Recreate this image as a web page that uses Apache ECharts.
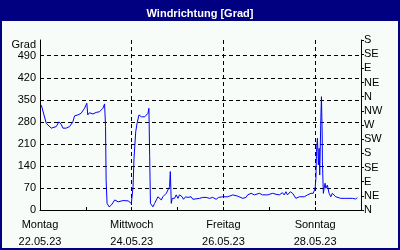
<!DOCTYPE html>
<html><head><meta charset="utf-8">
<script src="https://cdn.jsdelivr.net/npm/echarts@6/dist/echarts.min.js"></script>
<style>html,body{margin:0;padding:0;background:#f8fcf8}#c{width:400px;height:250px}</style>
</head><body><div id="c"></div>
<script>
// hours since Monday 22.05.23 00:00
const hours = [0.7,2.1,3.3,4.2,5.9,6.8,8.5,9.9,11.0,12.0,13.7,15.5,17.2,18.1,19.8,21.5,23.3,24.5,25.0,25.9,27.7,29.4,31.1,32.9,33.8,34.3,34.6,35.1,36.2,37.4,39.1,40.9,41.7,43.5,46.1,47.0,47.8,48.7,49.2,50.1,50.8,51.8,53.1,53.9,54.8,55.7,56.5,57.0,57.4,57.8,59.1,60.0,60.9,61.7,62.6,63.5,64.3,65.2,66.1,66.9,67.8,68.2,68.5,68.7,69.2,69.5,70.4,71.3,72.2,73.0,73.9,74.4,75.1,76.2,77.4,78.3,79.1,80.0,80.9,83.5,85.2,87.0,88.7,90.4,92.2,93.5,95.6,98.2,100.9,103.5,106.1,107.8,108.7,110.5,112.2,114.8,116.5,117.4,119.1,121.7,123.5,125.2,126.9,127.8,128.7,129.5,131.0,132.2,133.9,135.7,138.3,140.0,141.8,143.0,144.0,144.4,144.7,145.2,145.7,146.1,146.4,147.0,147.3,147.7,147.8,148.3,148.7,149.2,149.6,150.4,151.3,152.2,153.0,153.9,154.8,155.6,157.4,160.0,163.5,165.2,166.1];
const values = [333,302,275,270,260,254,265,280,273,260,260,265,280,299,302,307,323,339,302,309,305,310,312,323,337,265,95,21,10,16,32,26,32,30,29,32,21,74,164,249,275,302,296,291,296,291,307,323,169,21,10,21,32,42,37,32,42,48,53,58,74,122,64,21,37,42,37,48,37,48,53,42,34,42,40,44,42,34,37,37,40,40,37,40,34,40,42,42,48,44,37,40,48,53,48,53,48,42,48,53,50,48,55,48,58,48,58,53,37,42,42,48,53,53,69,101,185,228,143,196,111,296,360,238,153,53,69,85,69,79,53,42,53,48,42,37,37,37,37,35,39];
const dayLabels = ['Montag\n22.05.23','Mittwoch\n24.05.23','Freitag\n26.05.23','Sonntag\n28.05.23'];
const dirLabels = ['N','NE','E','SE','S','SW','W','NW','N','NE','E','SE','S'];
const yMax = 540, yStep = 70, dirStep = 45, xMax = 168;

const font = 'Liberation Sans, Arial, sans-serif';
const data = hours.map((h,i)=>[h, values[i]]);
const chart = echarts.init(document.getElementById('c'), null, {renderer:'canvas'});
const dash = {color:'#000', width:1, type:[4,3]};
const solid = {color:'#000', width:1};
chart.setOption({
  animation:false,
  backgroundColor:'#f8fcf8',
  textStyle:{fontFamily:font},
  graphic:[
    {type:'rect', z:-100, shape:{x:1,y:1,width:398,height:248}, style:{fill:'#f8fcf8', stroke:'#000080', lineWidth:2}},
    {type:'rect', z:-99, shape:{x:0,y:0,width:400,height:21}, style:{fill:'#000080'}}
  ],
  title:{text:'Windrichtung [Grad]', left:'center', top:3, z:10,
    textStyle:{color:'#fff', fontSize:11, fontWeight:'bold', fontFamily:font}},
  grid:{left:40, right:39, top:40, bottom:40, containLabel:false},
  xAxis:[
    {type:'value', min:0, max:xMax, interval:48,
     axisLine:{show:true, onZero:false, lineStyle:solid}, axisTick:{show:false},
     splitLine:{show:true, lineStyle:dash, showMinLine:false, showMaxLine:false},
     axisLabel:{show:true, showMaxLabel:false, color:'#000', fontSize:11, fontFamily:font, margin:6, lineHeight:17,
       formatter:v=> v<xMax ? dayLabels[Math.round(v/48)] : ''}},
    {type:'value', min:0, max:xMax, interval:24, position:'bottom',
     axisLine:{show:false, onZero:false}, axisTick:{show:true, inside:true, length:3, lineStyle:solid},
     splitLine:{show:false}, axisLabel:{show:false}}
  ],
  yAxis:[
    {type:'value', min:0, max:yMax, interval:yStep, position:'left',
     name:'Grad', nameLocation:'end', nameGap:-5,
     nameTextStyle:{color:'#000', fontSize:11, fontFamily:font, align:'right', verticalAlign:'middle', padding:[0,4,0,0]},
     axisLine:{show:true, onZero:false, lineStyle:solid}, axisTick:{show:false},
     splitLine:{show:true, lineStyle:dash, showMinLine:false, showMaxLine:false},
     axisLabel:{color:'#000', fontSize:11, fontFamily:font, margin:4, showMaxLabel:false,
       formatter:v=> v===yMax ? '' : String(v)}},
    {type:'value', min:0, max:yMax, interval:dirStep, position:'right',
     axisLine:{show:true, onZero:false, lineStyle:solid},
     axisTick:{show:true, length:3, lineStyle:solid},
     splitLine:{show:false},
     axisLabel:{color:'#000', fontSize:11, fontFamily:font, margin:3, showMinLabel:true, showMaxLabel:true,
       formatter:v=> dirLabels[Math.round(v/dirStep)] || ''}}
  ],
  series:[{type:'line', xAxisIndex:0, yAxisIndex:0, data:data, showSymbol:false, symbol:'none',
    lineStyle:{color:'#0000ff', width:1}, z:5}]
});
</script></body></html>
